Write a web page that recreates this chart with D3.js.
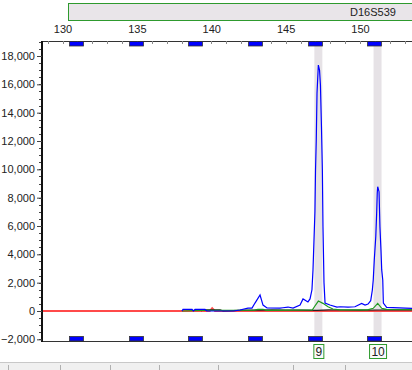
<!DOCTYPE html>
<html>
<head>
<meta charset="utf-8">
<script src="https://cdn.jsdelivr.net/npm/d3@7"></script>
<style>
  body { margin: 0; background: #fff; }
  svg text { font-family: "Liberation Sans", Arial, sans-serif; font-size: 11px; fill: #222; }
</style>
</head>
<body>
<div id="chart"></div>
<script>
// ---- data ----
const markerName = 'D16S539';
const xTicks = [130, 135, 140, 145, 150];
const yTicks = [-2000, 0, 2000, 4000, 6000, 8000, 10000, 12000, 14000, 16000, 18000];
const binCenters = [130.92, 134.95, 138.97, 142.97, 147.0, 151.0];
const calledAlleles = ['9', '10'];
const calledPos = [147.2, 151.18];

// [size bp, rfu]
const blueTrace = [[138.03, 0], [138.10, 110], [138.71, 110], [138.80, 0], [138.91, 110], [139.58, 110], [139.7, 0],
  [141.5, 0], [141.93, 70], [142.47, 200], [142.74, 200], [142.94, 560], [143.28, 1130], [143.48, 420], [143.75, 210],
  [144.62, 200], [144.82, 230], [145.16, 280], [145.50, 210], [145.97, 420], [146.17, 850], [146.37, 730], [146.50, 640],
  [146.64, 850], [146.77, 1500], [146.84, 2900], [146.97, 7000], [147.01, 9950], [147.06, 12070], [147.11, 15380],
  [147.20, 17360], [147.28, 17000], [147.34, 15950], [147.41, 12990], [147.47, 9950], [147.51, 6000], [147.58, 2000],
  [147.65, 560], [147.98, 420], [148.45, 280], [148.66, 300], [149.19, 280], [149.66, 300], [150.11, 540], [150.34, 420],
  [150.54, 490], [150.72, 730], [150.83, 1480], [150.89, 2190], [150.96, 3600], [151.06, 5240], [151.12, 6890],
  [151.16, 8330], [151.19, 8770], [151.28, 8420], [151.34, 5950], [151.41, 4300], [151.46, 2900], [151.53, 2190],
  [151.57, 560], [151.79, 260], [153.5, 190]];
const greenTrace = [[138.03, 0], [139.3, 50], [142.9, 60], [143.14, 120], [143.48, 120], [143.7, 50], [146.8, 80],
  [146.97, 350], [147.20, 700], [147.51, 540], [147.85, 300], [148.18, 140], [148.66, 80], [150.5, 80], [150.89, 190],
  [151.19, 540], [151.46, 190], [151.79, 120], [153.5, 100]];
const blackTrace = [[139.3, 0], [139.4, 80], [140.6, 80], [140.8, 0], [141.8, 40], [142.5, 70], [143.3, 60], [144.1, 80],
  [145.0, 70], [146.0, 60], [147.1, 40], [147.9, 80], [148.8, 70], [150.0, 60], [151.3, 70], [152.2, 90], [153.5, 80]];
const redTrace = [[128.6, 0], [139.9, 0], [140.06, 200], [140.25, 0], [153.5, 0]];

const width = 412, height = 370;
const plot = {left: 42, top: 41, right: 414, bottom: 341};

const svg = d3.select('#chart').append('svg')
  .attr('width', width).attr('height', height);

// scales: 130 bp sits at x 62.5, 14.875 px per bp
const x = d3.scaleLinear().domain([130, 150]).range([62.5, 360]);
const y = d3.scaleLinear().domain([0, 18000]).range([311, 56]);

// marker name box
svg.append('rect')
  .attr('x', 68.5).attr('y', 3.5).attr('width', 360).attr('height', 17)
  .attr('fill', '#e9e5e9').attr('stroke', '#2e9a2e');
svg.append('text')
  .attr('x', 373).attr('y', 16).attr('text-anchor', 'middle')
  .text(markerName);

// top size labels
svg.append('g')
  .attr('transform', 'translate(0,36)')
  .call(d3.axisTop(x).tickValues(xTicks).tickSize(0).tickPadding(3))
  .call(g => g.select('.domain').remove())
  .call(g => g.selectAll('text').attr('fill', '#222').style('font-family', '"Liberation Sans", Arial, sans-serif').style('font-size', '11px'));

// highlighted bins (called alleles)
svg.append('g').selectAll('rect')
  .data(calledPos)
  .enter().append('rect')
    .attr('x', d => x(d) - 4)
    .attr('y', plot.top)
    .attr('width', 8)
    .attr('height', plot.bottom - plot.top + 1)
    .attr('fill', '#e6e2e6');

// clip for traces
svg.append('clipPath').attr('id', 'clip')
  .append('rect')
    .attr('x', plot.left + 1).attr('y', plot.top)
    .attr('width', plot.right - plot.left).attr('height', plot.bottom - plot.top);

let line = d3.line()
  .x(d => x(d[0]))
  .y(d => y(d[1]));

let traces = svg.append('g').attr('clip-path', 'url(#clip)');
// red baseline trace drawn first
traces.append('path').datum(redTrace)
  .attr('d', line).attr('fill', 'none').attr('stroke', '#ff4a4a').attr('stroke-width', 1.8);
traces.append('path').datum(blackTrace)
  .attr('d', line).attr('fill', 'none').attr('stroke', '#222').attr('stroke-width', 1.2);
traces.append('path').datum(greenTrace)
  .attr('d', line).attr('fill', 'none').attr('stroke', '#1f9a1f').attr('stroke-width', 1.2);
traces.append('path').datum(blueTrace)
  .attr('d', line).attr('fill', 'none').attr('stroke', '#0000ff').attr('stroke-width', 1.2);

// frame: top and bottom lines, left axis
svg.append('line')
  .attr('x1', plot.left).attr('x2', width).attr('y1', plot.top + 0.5).attr('y2', plot.top + 0.5)
  .attr('stroke', '#333');
svg.append('line')
  .attr('x1', plot.left).attr('x2', width).attr('y1', plot.bottom + 0.5).attr('y2', plot.bottom + 0.5)
  .attr('stroke', '#333');

// small ticks along the top border, one per bp
svg.append('g').selectAll('line')
  .data(d3.range(129, 154))
  .enter().append('line')
    .attr('x1', d => Math.round(x(d)) + 0.5).attr('x2', d => Math.round(x(d)) + 0.5)
    .attr('y1', plot.top).attr('y2', plot.top + 3)
    .attr('stroke', '#888');

// y minor ticks (every 500)
svg.append('g').selectAll('line')
  .data(d3.range(-2000, 19001, 500))
  .enter().append('line')
    .attr('x1', plot.left - 3).attr('x2', plot.left)
    .attr('y1', d => Math.round(y(d)) + 0.5).attr('y2', d => Math.round(y(d)) + 0.5)
    .attr('stroke', '#444');

// y axis
svg.append('g')
  .attr('transform', 'translate(' + plot.left + ',0)')
  .call(d3.axisLeft(y).tickValues(yTicks).tickFormat(d3.format(',')).tickSize(5).tickPadding(2).tickSizeOuter(0))
  .call(g => g.select('.domain').attr('d', 'M0,' + plot.top + 'V' + (plot.bottom + 1)).attr('stroke', '#111').attr('stroke-width', 2))
  .call(g => g.selectAll('.tick line').attr('stroke', '#444'))
  .call(g => g.selectAll('text').attr('fill', '#222').style('font-family', '"Liberation Sans", Arial, sans-serif').style('font-size', '11px'));

// bin markers top and bottom
[plot.top + 0.5, plot.bottom - 4.5].forEach(yy => {
  svg.append('g').selectAll('rect')
    .data(binCenters)
    .enter().append('rect')
      .attr('x', d => Math.round(x(d) - 7.5) + 0.5)
      .attr('y', yy)
      .attr('width', 14)
      .attr('height', 4.5)
      .attr('fill', '#0000ff')
      .attr('stroke', '#333')
      .attr('stroke-width', 0.8);
});

// allele call labels
let calls = svg.append('g').selectAll('g')
  .data(calledAlleles)
  .enter().append('g')
    .attr('transform', (d, i) => 'translate(' + x(calledPos[i]) + ',344)');
calls.append('rect')
  .attr('x', d => -(d.length * 7 + 3) / 2 + 0.5)
  .attr('y', 0.5)
  .attr('width', d => d.length * 7 + 3)
  .attr('height', 14)
  .attr('fill', '#fafafa')
  .attr('stroke', '#2e9a2e');
calls.append('text')
  .attr('x', 0.5).attr('y', 12)
  .attr('text-anchor', 'middle')
  .style('font-size', '12px')
  .text(d => d);

// status strip at the bottom of the window
svg.append('rect')
  .attr('x', 0).attr('y', 363).attr('width', width).attr('height', 7)
  .attr('fill', '#f0f0f0');
svg.append('line')
  .attr('x1', 0).attr('x2', width).attr('y1', 362.5).attr('y2', 362.5)
  .attr('stroke', '#c8c8c8');
svg.append('g').selectAll('line')
  .data([8, 60, 110, 159, 218, 293, 345])
  .enter().append('line')
    .attr('x1', d => d + 0.5).attr('x2', d => d + 0.5)
    .attr('y1', 365).attr('y2', 370)
    .attr('stroke', '#b0b0b0');
</script>
</body>
</html>
